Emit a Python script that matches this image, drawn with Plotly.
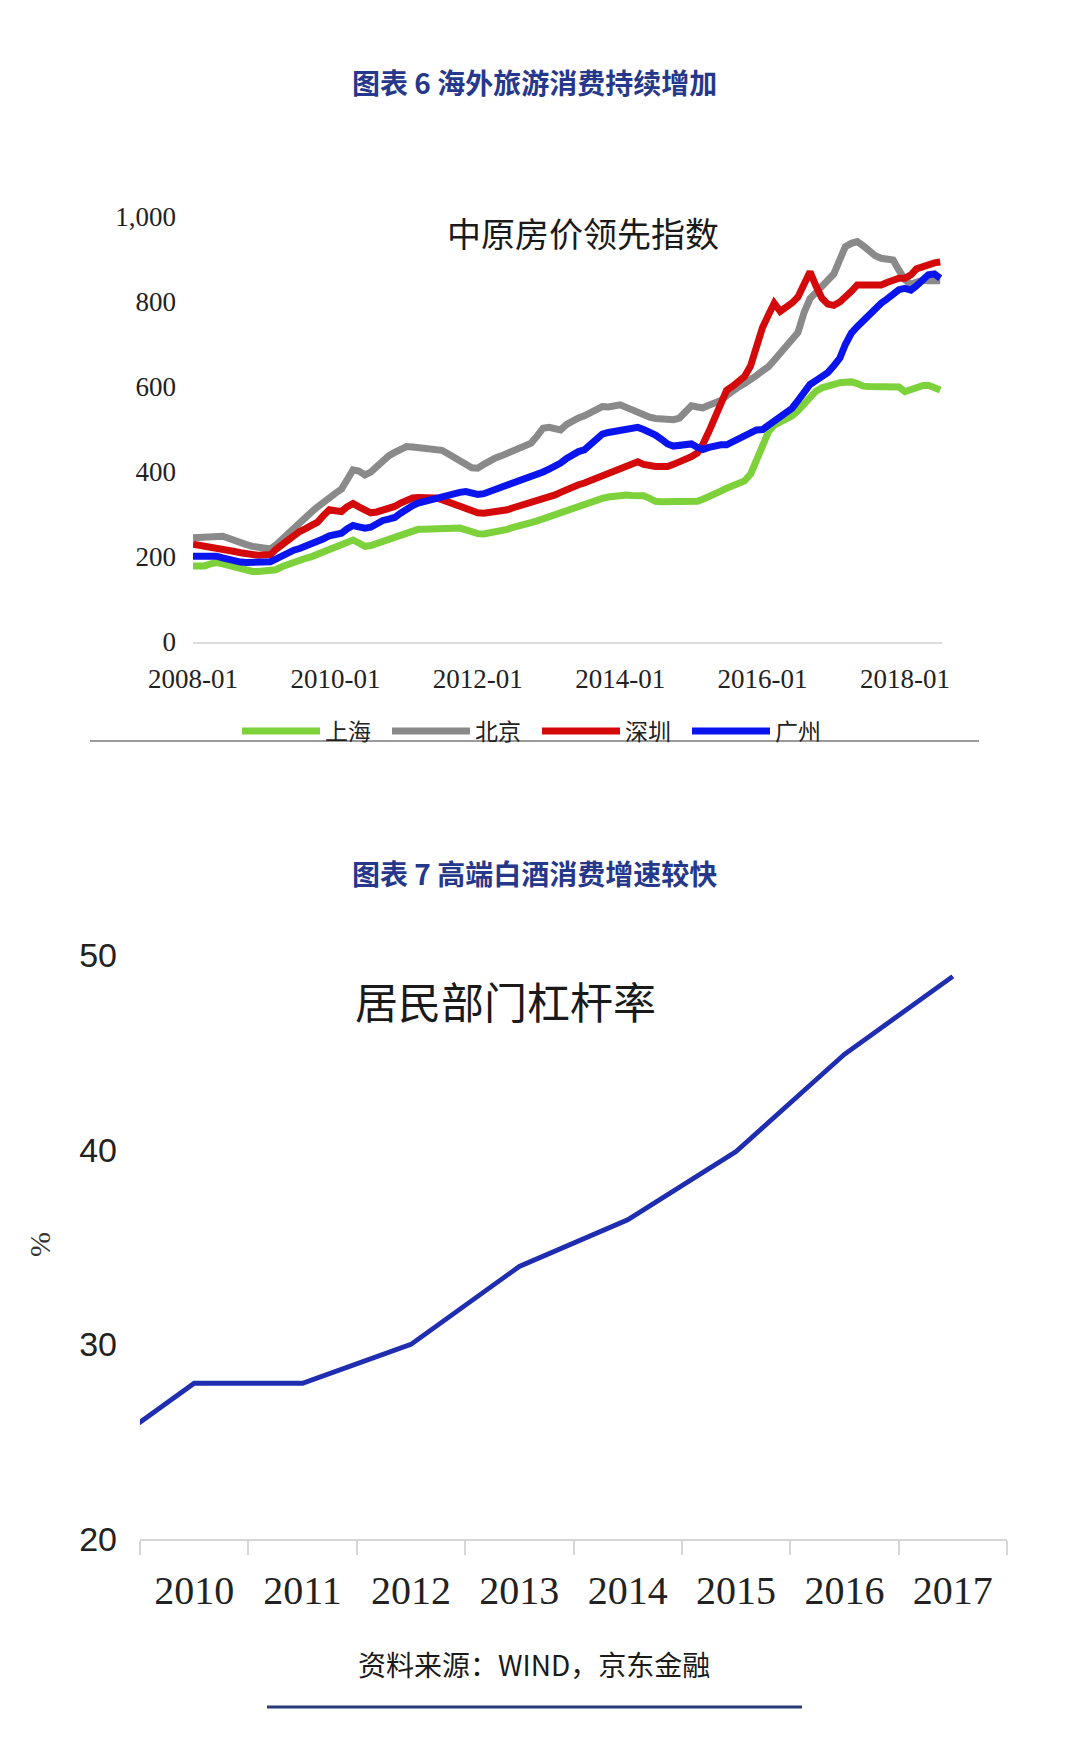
import pandas as pd
import plotly.graph_objects as go

W, H = 1080, 1758
PAGE_OFFSET = 8  # the browser's default body margin shifts the figure by this many pixels

# ---------------- Chart 1 data: 中原房价领先指数 (monthly, from 2008-01) ----------------
start_month = "2008-01-01"
shanghai = [179, 178, 179, 184, 187, 184, 180, 177, 173, 169, 166, 166, 166, 166, 170, 177, 183, 188, 192, 197,
            201, 207, 214, 220, 224, 228, 235, 240, 233, 225, 227, 232, 235, 240, 245, 251, 258, 264, 265, 265,
            266, 267, 268, 270, 271, 268, 264, 259, 255, 254, 256, 258, 260, 265, 270, 275, 278, 281, 285, 290,
            295, 300, 303, 306, 311, 316, 322, 327, 332, 338, 341, 343, 346, 346, 345, 345, 344, 338, 331, 330,
            330, 330, 331, 330, 330, 331, 336, 341, 348, 355, 362, 368, 373, 379, 395, 425, 460, 495, 510, 517,
            522, 532, 544, 560, 578, 590, 598, 603, 606, 610, 611, 612, 608, 602, 601, 600, 600, 599, 597, 600,
            589, 594, 598, 603, 604, 599, 593]
beijing = [245, 246, 248, 250, 252, 249, 244, 238, 233, 229, 225, 222, 220, 219, 228, 242, 254, 266, 283, 296,
           306, 318, 330, 340, 350, 360, 384, 405, 402, 393, 400, 414, 425, 438, 446, 452, 460, 459, 458, 456,
           455, 454, 451, 443, 436, 428, 418, 410, 409, 418, 427, 433, 438, 444, 451, 458, 464, 468, 485, 503,
           505, 500, 499, 512, 521, 527, 532, 541, 549, 554, 553, 555, 558, 552, 546, 541, 535, 529, 526, 524,
           522, 523, 527, 540, 556, 553, 551, 557, 563, 568, 580, 592, 600, 608, 616, 627, 638, 648, 663, 679,
           695, 711, 728, 775, 808, 822, 836, 851, 866, 900, 930, 938, 942, 932, 918, 909, 903, 901, 899, 875,
           852, 842, 846, 851, 850, 848, 850]
shenzhen = [230, 228, 226, 223, 221, 219, 216, 213, 210, 207, 205, 204, 205, 205, 218, 230, 241, 251, 260, 267,
            273, 282, 298, 311, 309, 307, 318, 326, 318, 309, 304, 306, 310, 314, 319, 327, 335, 339, 340, 341,
            342, 339, 335, 330, 325, 319, 313, 308, 304, 303, 304, 305, 307, 311, 316, 320, 324, 328, 332, 337,
            341, 346, 352, 359, 365, 370, 374, 380, 386, 392, 398, 404, 410, 417, 421, 424, 418, 414, 413, 413,
            413, 418, 423, 428, 436, 445, 465, 495, 525, 560, 592, 602, 612, 625, 650, 700, 740, 770, 797, 778,
            786, 798, 812, 840, 871, 838, 809, 795, 792, 800, 810, 825, 840, 841, 840, 839, 840, 846, 853, 856,
            856, 864, 878, 884, 888, 892, 894]
guangzhou = [202, 203, 203, 202, 202, 198, 194, 190, 188, 187, 187, 187, 188, 189, 195, 203, 210, 216, 220, 225,
             229, 236, 243, 250, 253, 256, 266, 274, 271, 268, 270, 280, 286, 289, 293, 303, 313, 321, 327, 331,
             333, 336, 340, 344, 348, 352, 354, 351, 347, 349, 354, 358, 361, 366, 371, 376, 382, 388, 394, 400,
             407, 414, 421, 432, 442, 448, 452, 466, 478, 489, 493, 495, 498, 501, 504, 505, 500, 495, 487, 477,
             466, 461, 463, 465, 466, 458, 453, 458, 463, 464, 464, 472, 480, 487, 494, 499, 500, 510, 524, 534,
             542, 550, 568, 590, 606, 615, 624, 634, 650, 668, 700, 727, 742, 756, 770, 786, 797, 807, 817, 829,
             832, 828, 838, 850, 864, 866, 856]
city_names = ["上海", "北京", "深圳", "广州"]
city_colors = ["#7dd13b", "#8a8a8a", "#d40a0a", "#0a14ee"]
y1_ticks = [0, 200, 400, 600, 800, 1000]
x1_ticks = ["2008-01", "2010-01", "2012-01", "2014-01", "2016-01", "2018-01"]

# ---------------- Chart 2 data: 居民部门杠杆率 ----------------
years = ["2009", "2010", "2011", "2012", "2013", "2014", "2015", "2016", "2017"]
leverage = [24.0, 28.0, 28.0, 30.0, 34.0, 36.4, 39.9, 44.9, 48.9]
y2_ticks = [20, 30, 40, 50]

HEAD_COLOR = "#26388c"
CJK = "Noto Sans CJK SC"
SERIF = "Liberation Serif"
SANS = "Liberation Sans"


def px_x(v):
    return (v - PAGE_OFFSET) / W


def px_y(v):
    return 1 - (v - PAGE_OFFSET) / H


fig = go.Figure()

series = [shanghai, beijing, shenzhen, guangzhou]
for name, vals, col in zip(city_names, series, city_colors):
    dates = pd.date_range(start_month, periods=len(vals), freq="MS")
    fig.add_trace(go.Scatter(x=dates, y=vals, mode="lines", name=name,
                             line=dict(color=col, width=7), xaxis="x", yaxis="y",
                             showlegend=True))

fig.add_trace(go.Scatter(x=years, y=leverage, mode="lines", name="居民部门杠杆率",
                         line=dict(color="#1f2db0", width=4.8), xaxis="x2", yaxis="y2",
                         showlegend=False))

fig.update_layout(
    width=W, height=H,
    margin=dict(l=0, r=0, t=0, b=0, pad=0, autoexpand=False),
    paper_bgcolor="white", plot_bgcolor="white",
    xaxis=dict(
        domain=[px_x(193), px_x(942)],
        type="date",
        range=["2008-01-01", "2018-07-10"],
        tickvals=[pd.Timestamp(t + "-01") for t in x1_ticks],
        ticktext=x1_ticks,
        showgrid=False, zeroline=False,
        showline=True, linecolor="#dcdcdc", linewidth=2,
        ticks="", ticklabelstandoff=12, automargin=False,
        tickfont=dict(family=SERIF, size=27, color="#222222"),
        anchor="y",
    ),
    yaxis=dict(
        domain=[px_y(642), px_y(217)],
        range=[0, 1000],
        tickvals=y1_ticks,
        tickformat=",",
        showgrid=False, zeroline=False, showline=False,
        ticks="", ticklabelstandoff=16, automargin=False,
        tickfont=dict(family=SERIF, size=27, color="#222222"),
        anchor="x",
    ),
    xaxis2=dict(
        domain=[px_x(140), px_x(1007)],
        type="category",
        categoryorder="array", categoryarray=years,
        range=[0.5, 8.5],
        tickson="boundaries",
        ticks="outside", ticklen=14, tickwidth=2, tickcolor="#d6d6d6",
        showgrid=False, zeroline=False,
        showline=True, linecolor="#d6d6d6", linewidth=2,
        ticklabelstandoff=15, automargin=False,
        tickfont=dict(family=SERIF, size=40, color="#222222"),
        anchor="y2",
    ),
    yaxis2=dict(
        domain=[px_y(1539), px_y(955)],
        range=[20, 50],
        tickvals=y2_ticks,
        showgrid=False, zeroline=False, showline=False,
        ticks="", ticklabelstandoff=22, automargin=False,
        tickfont=dict(family=SANS, size=34, color="#222222"),
        anchor="x2",
    ),
    legend=dict(
        orientation="h",
        x=px_x(237), xanchor="left",
        y=px_y(731), yanchor="middle",
        font=dict(family=CJK, size=23, color="#222222"),
        bgcolor="rgba(0,0,0,0)",
        itemwidth=78,
        entrywidth=57, entrywidthmode="pixels",
        traceorder="normal",
    ),
    showlegend=True,
)

annotations = [
    dict(text="<b>图表 6 海外旅游消费持续增加</b>", x=px_x(534), y=px_y(82),
         font=dict(family=CJK, size=28, color=HEAD_COLOR)),
    dict(text="中原房价领先指数", x=px_x(583), y=px_y(232),
         font=dict(family=CJK, size=34, color="#1a1a1a")),
    dict(text="<b>图表 7 高端白酒消费增速较快</b>", x=px_x(534), y=px_y(873),
         font=dict(family=CJK, size=28, color=HEAD_COLOR)),
    dict(text="居民部门杠杆率", x=px_x(505), y=px_y(1000),
         font=dict(family=CJK, size=43, color="#1a1a1a")),
    dict(text="%", x=px_x(39), y=px_y(1245), textangle=-90,
         font=dict(family=SERIF, size=30, color="#333333")),
    dict(text="资料来源：WIND，京东金融", x=px_x(534), y=px_y(1664),
         font=dict(family=CJK, size=28, color="#1a1a1a")),
]
for a in annotations:
    a.update(xref="paper", yref="paper", showarrow=False, xanchor="center", yanchor="middle")
fig.update_layout(annotations=annotations)

shapes = [
    # grey rule under the first chart's legend
    dict(type="line", xref="paper", yref="paper", x0=px_x(90), x1=px_x(979), y0=px_y(741), y1=px_y(741),
         line=dict(color="#9a9a9a", width=2)),
    # navy rule at bottom
    dict(type="line", xref="paper", yref="paper", x0=px_x(267), x1=px_x(802), y0=px_y(1707), y1=px_y(1707),
         line=dict(color="#2b3a7a", width=3)),
]
fig.update_layout(shapes=shapes)

fig.write_html("out.html")
